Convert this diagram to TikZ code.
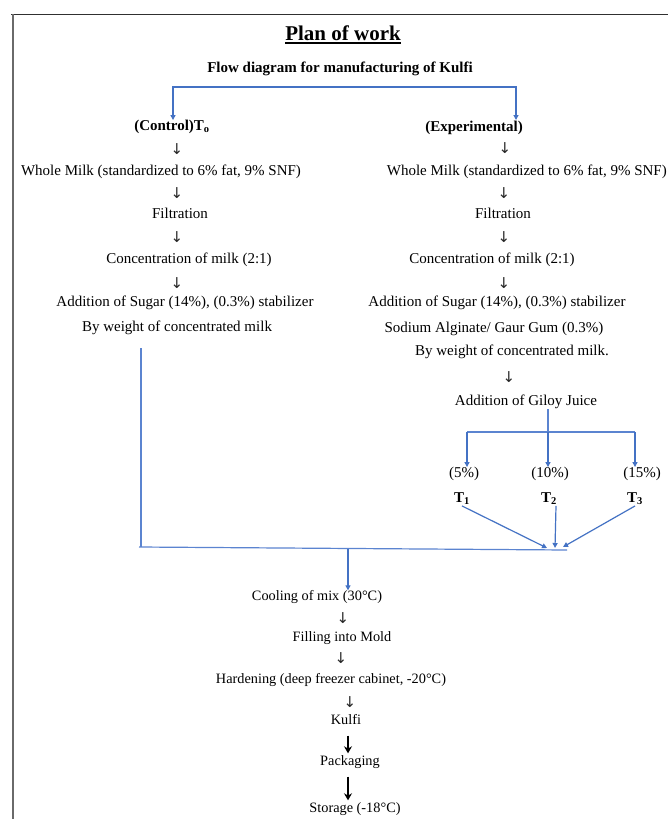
\documentclass[tikz,border=0pt]{standalone}
\usepackage{fontspec}
\setmainfont{Liberation Serif}
\newfontfamily\arrowfont{DejaVu Sans}
\usetikzlibrary{arrows.meta}
\definecolor{lineblue}{HTML}{4472C4}
\definecolor{lightblue}{HTML}{5B84D0}
\definecolor{framegray}{HTML}{303030}
\definecolor{leftgray}{HTML}{6A6A6A}
\begin{document}
\begin{tikzpicture}[x=1pt,y=-1pt,
  txt/.style={inner sep=0pt, font=\fontsize{15}{18}\selectfont, text height=10.5pt, text depth=3pt},
  lowtxt/.style={inner sep=0pt, font=\fontsize{14.3}{17}\selectfont, text height=10pt, text depth=3pt},
  headtxt/.style={inner sep=0pt, font=\bfseries\fontsize{15}{18}\selectfont, text height=10.5pt, text depth=3pt},
  downglyph/.style={inner sep=0pt, font=\arrowfont\fontsize{15}{17}\selectfont, text=black!85},
  barrow/.style={draw=lineblue, line width=1.2pt, -{Triangle[length=5pt,width=5pt]}},
  bline/.style={draw=lightblue, line width=1.2pt},
  blackarrow/.style={draw=black, line width=1.8pt, -{Stealth[length=7pt,width=8pt]}}
]
\useasboundingbox (0,0) rectangle (668,819);
\fill[white] (0,0) rectangle (668,819);
% page frame
\draw[framegray, line width=1.4pt] (11,14.5) -- (668,14.5);
\draw[leftgray, line width=1.6pt] (13,14) -- (13,819);

% headings
\node[inner sep=0pt, anchor=base, font=\bfseries\fontsize{21}{24}\selectfont] (title) at (343,40) {Plan of work};
\draw[black, line width=1.1pt] ([yshift=-3pt]title.base west) -- ([yshift=-3pt]title.base east);
\node[headtxt] (sub) at (340,69) {Flow diagram for manufacturing of Kulfi};

% branch to the two arms
\node[headtxt] (ctrl) at (172,127) {(Control)T\textsubscript{o}};
\node[headtxt] (exp) at (474,128) {(Experimental)};
\coordinate (brL) at (173,87);
\coordinate (brR) at (516,87);
\coordinate (expIn) at (516,120);
\draw[barrow] (brR) -- (brL) -- (brL |- ctrl.north);
\draw[barrow] (brL) -- (brR) -- (expIn);

% control column
\node[downglyph] (a1) at (177,149) {↓};
\node[txt] (wmL) at (161,172) {Whole Milk (standardized to 6\% fat, 9\% SNF)};
\node[downglyph] (a2) at (177,193) {↓};
\node[txt] (filL) at (180,215) {Filtration};
\node[downglyph] (a3) at (177,237) {↓};
\node[txt] (conL) at (189,260) {Concentration of milk (2:1)};
\node[downglyph] (a4) at (177,283) {↓};
\node[txt] (sugL) at (185,303) {Addition of Sugar (14\%), (0.3\%) stabilizer};
\node[txt] (bwL) at (177,328) {By weight of concentrated milk};

% experimental column
\node[downglyph] (b1) at (505,148) {↓};
\node[txt, anchor=east] (wmR) at (667,172) {Whole Milk (standardized to 6\% fat, 9\% SNF)};
\node[downglyph] (b2) at (504,193) {↓};
\node[txt] (filR) at (503,215) {Filtration};
\node[downglyph] (b3) at (504,237) {↓};
\node[txt] (conR) at (492,260) {Concentration of milk (2:1)};
\node[downglyph] (b4) at (504,283) {↓};
\node[txt] (sugR) at (497,303) {Addition of Sugar (14\%), (0.3\%) stabilizer};
\node[txt] (sodR) at (494,329) {Sodium Alginate/ Gaur Gum (0.3\%)};
\node[txt] (bwR) at (512,352) {By weight of concentrated milk.};
\node[downglyph] (b5) at (509,377) {↓};
\node[txt] (gil) at (526,402) {Addition of Giloy Juice};

% Giloy branches
\coordinate (gSplit) at (548,432);
\coordinate (gL) at (467,432);
\coordinate (gR) at (635,432);
\node[txt] (p5) at (464,474) {(5\%)};
\node[txt] (p10) at (550,474) {(10\%)};
\node[txt] (p15) at (642,474) {(15\%)};
\node[headtxt] (t1) at (462,499) {T\textsubscript{1}};
\node[headtxt] (t2) at (549,499) {T\textsubscript{2}};
\node[headtxt] (t3) at (635,499) {T\textsubscript{3}};
\draw[bline] (gil.south -| gSplit) -- (gSplit);
\draw[bline] (gL) -- (gR);
\draw[barrow] (gL) -- (gL |- p5.north);
\draw[barrow] (gSplit) -- (gSplit |- p10.north);
\draw[barrow] (gR) -- (gR |- p15.north);

% merge
\coordinate (leftTop) at (141,348);
\coordinate (leftBot) at (141,547);
\coordinate (mergeL) at (139,547);
\coordinate (mergeR) at (567,550);
\coordinate (mergeMid) at (348,549);
\coordinate (tip1) at (547,548);
\coordinate (tip2) at (555,548);
\coordinate (tip3) at (563,547);
\draw[bline] (leftTop) -- (leftBot);
\draw[bline] (mergeL) -- (mergeR);
\draw[barrow] (t1.south) -- (tip1);
\draw[barrow] ([xshift=7pt]t2.south) -- (tip2);
\draw[barrow] (t3.south) -- (tip3);

% lower sequence
\node[lowtxt] (cool) at (317,597) {Cooling of mix (30°C)};
\draw[barrow] (mergeMid) -- (mergeMid |- cool.north);
\node[downglyph] (c1) at (343,618) {↓};
\node[lowtxt] (fill) at (342,638) {Filling into Mold};
\node[downglyph] (c2) at (341,658) {↓};
\node[lowtxt] (hard) at (331,680) {Hardening (deep freezer cabinet, -20°C)};
\node[downglyph] (c3) at (350,702) {↓};
\node[lowtxt] (kulfi) at (346,721) {Kulfi};
\node[lowtxt] (pack) at (350,762) {Packaging};
\node[lowtxt] (stor) at (355,809) {Storage (-18°C)};
\draw[blackarrow] ([yshift=-8pt]kulfi.south -| 348,0) -- ([yshift=2pt]pack.north -| 348,0);
\draw[blackarrow] ([yshift=-8pt]pack.south -| 348,0) -- ([yshift=2pt]stor.north -| 348,0);
\end{tikzpicture}
\end{document}
